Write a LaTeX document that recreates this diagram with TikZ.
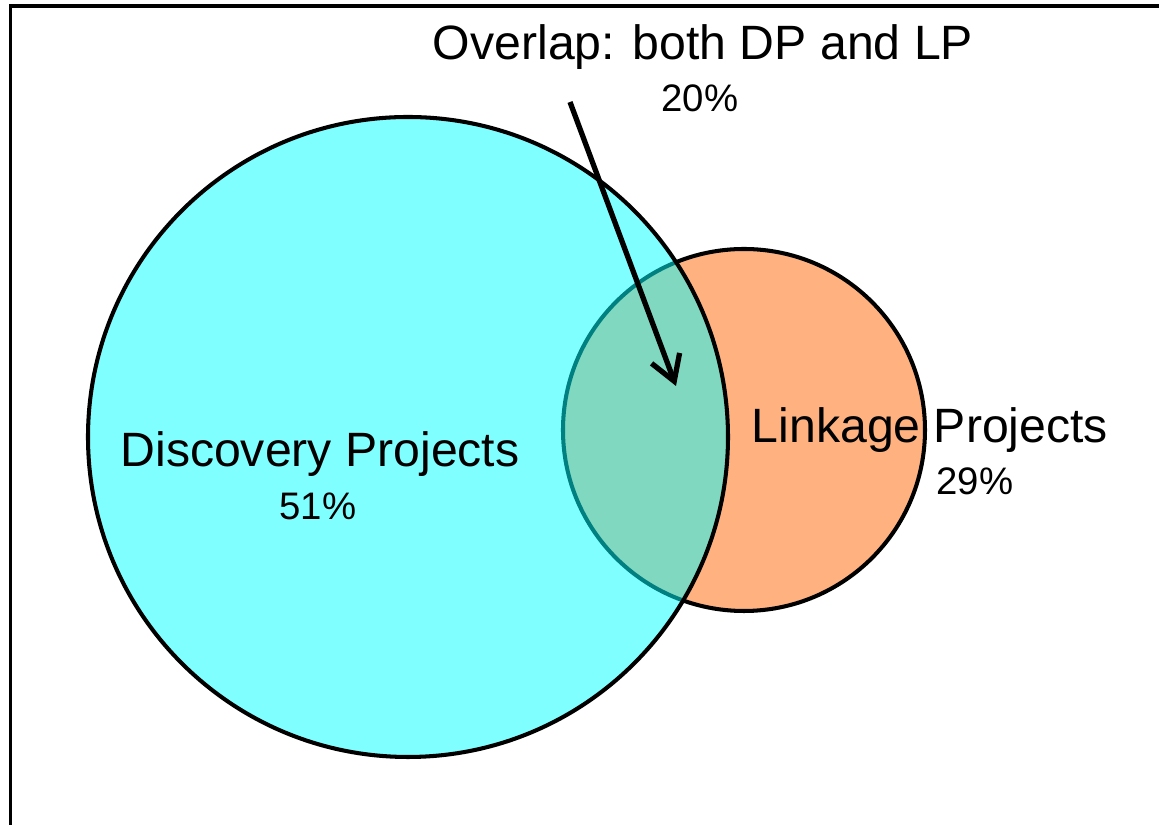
\documentclass[tikz,border=0pt]{standalone}
\usepackage{fontspec}
\setmainfont{Liberation Sans}
\usetikzlibrary{arrows.meta}
\definecolor{dpcyan}{RGB}{0,255,255}
\definecolor{lporange}{RGB}{255,178,128}
\begin{document}
\begin{tikzpicture}[x=0.01cm,y=-0.01cm,
    big label/.style={anchor=base,inner sep=0pt,font=\fontsize{13.7}{16}\selectfont},
    pct label/.style={anchor=base,inner sep=0pt,font=\fontsize{10.9}{13}\selectfont},
    set ring/.style={line width=1.15pt}]
      \useasboundingbox (0,0) rectangle (1159,825);
      \draw [line width=1pt] (10.5,825) |- (1159,6);

      \coordinate (dp) at (408,437);
      \coordinate (lp) at (744,430);

      % Linkage first, Discovery laid over it
      \fill [lporange] (lp) circle [radius=181];
      \draw [set ring] (lp) circle [radius=181];
      \fill [dpcyan,fill opacity=0.5] (dp) circle [radius=320];
      \draw [set ring] (dp) circle [radius=320];

      \node [big label] (overlap) at (703,60) {Overlap: both DP and LP};
      \node [pct label] (overlappct) at (700,112) {20\%};
      \node [big label] (dpname) at (320,467) {Discovery Projects};
      \node [pct label] (dppct) at (318,520) {51\%};
      \node [big label] (lpname) at (930,443) {Linkage Projects};
      \node [pct label] (lppct) at (975,495) {29\%};

      \coordinate (tail) at (570,102);
      \coordinate (tip) at (676,386);
      \draw [line width=1.5pt,-{Straight Barb[length=7pt,width=8.5pt,line width=1.5pt]}] (tail) -- (tip);

    \end{tikzpicture}
\end{document}
